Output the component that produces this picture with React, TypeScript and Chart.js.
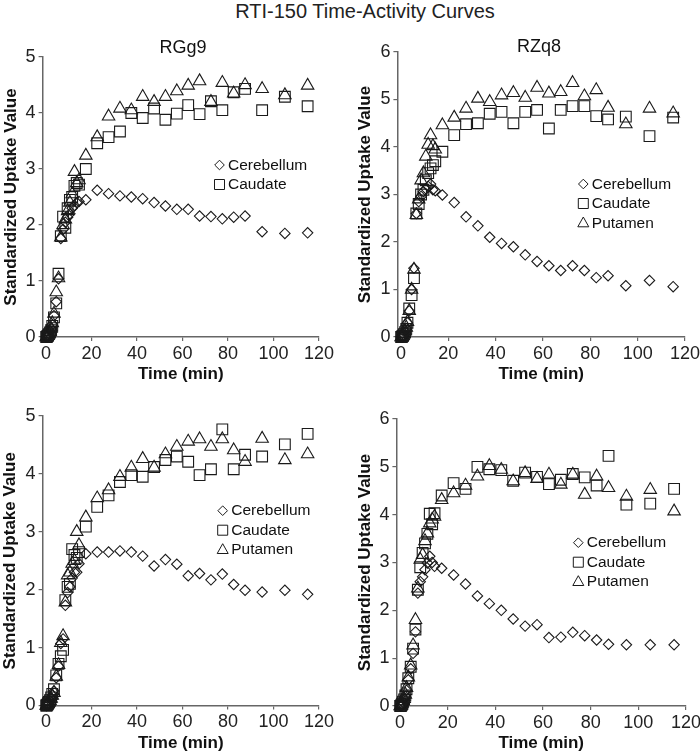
import React, { useEffect, useRef } from 'react';
import { Chart, registerables } from 'chart.js';
Chart.register(...registerables);

const FONT = "'Liberation Sans', Arial, Helvetica, sans-serif";

// Frame mid-times (min)
const times = [0.1, 0.3, 0.5, 0.7, 0.9, 1.25, 1.75, 2.25, 2.75, 3.5, 4.5, 5.5, 6.5, 7.5, 8.5, 9.5, 10.5, 11.5, 12.5, 13.5, 14.5, 17.5, 22.5, 27.5, 32.5, 37.5, 42.5, 47.5, 52.5, 57.5, 62.5, 67.5, 72.5, 77.5, 82.5, 87.5, 95, 105, 115];
const xTickValues = [0, 20, 40, 60, 80, 100, 120];

// RGg9 (top left)
const rgg9Cerebellum = [0, 0, 0.01, 0.02, 0.04, 0.06, 0.1, 0.15, 0.22, 0.38, 0.63, 1.04, 1.76, 1.92, 2.05, 2.14, 2.2, 2.3, 2.35, 2.4, 2.42, 2.45, 2.62, 2.56, 2.52, 2.5, 2.47, 2.4, 2.34, 2.28, 2.28, 2.16, 2.15, 2.11, 2.14, 2.16, 1.88, 1.85, 1.86];
const rgg9Caudate = [0, 0, 0.01, 0.02, 0.03, 0.05, 0.08, 0.12, 0.2, 0.35, 0.6, 1.13, 1.8, 2.15, 1.95, 2.3, 2.45, 2.5, 2.7, 2.75, 2.72, 3.0, 3.46, 3.57, 3.67, 4.0, 3.91, 4.08, 3.88, 3.99, 4.14, 3.98, 4.21, 4.05, 4.37, 4.43, 4.05, 4.29, 4.12];
const rgg9Putamen = [0, 0, 0.01, 0.02, 0.03, 0.06, 0.1, 0.15, 0.25, 0.42, 0.8, 1.05, 1.78, 2.0, 2.1, 2.25, 2.4, 2.55, 2.95, 2.75, 2.8, 3.24, 3.57, 3.94, 4.08, 4.05, 4.29, 4.2, 4.29, 4.39, 4.49, 4.57, 4.2, 4.54, 4.35, 4.5, 4.43, 4.32, 4.49];

// RZq8 (top right)
const rzq8Cerebellum = [0, 0, 0.01, 0.02, 0.03, 0.05, 0.1, 0.18, 0.3, 0.55, 1.0, 1.45, 2.6, 2.85, 2.96, 3.06, 3.12, 3.17, 3.22, 3.1, 3.08, 2.99, 2.83, 2.53, 2.34, 2.1, 1.97, 1.9, 1.73, 1.59, 1.5, 1.4, 1.5, 1.4, 1.25, 1.29, 1.08, 1.19, 1.06];
const rzq8Caudate = [0, 0, 0.01, 0.02, 0.03, 0.06, 0.1, 0.17, 0.3, 0.6, 0.88, 1.24, 2.6, 2.8, 3.0, 3.1, 3.3, 3.45, 3.55, 3.62, 3.7, 3.9, 4.25, 4.48, 4.5, 4.7, 4.74, 4.5, 4.74, 4.78, 4.39, 4.78, 4.86, 4.86, 4.65, 4.58, 4.64, 4.23, 4.62];
const rzq8Putamen = [0, 0, 0.01, 0.02, 0.03, 0.06, 0.12, 0.2, 0.32, 0.55, 1.0, 1.42, 2.57, 2.9, 3.3, 3.45, 3.8, 4.05, 4.25, 4.02, 3.95, 4.46, 4.62, 4.81, 5.02, 4.95, 5.09, 5.14, 5.04, 5.25, 5.13, 5.16, 5.35, 5.07, 5.2, 4.83, 4.48, 4.81, 4.71];

// Bottom left
const blCerebellum = [0, 0, 0.01, 0.02, 0.03, 0.05, 0.08, 0.12, 0.18, 0.25, 0.48, 0.68, 1.07, 1.15, 1.73, 1.95, 2.05, 2.2, 2.3, 2.3, 2.45, 2.62, 2.65, 2.65, 2.67, 2.65, 2.58, 2.41, 2.52, 2.44, 2.24, 2.28, 2.17, 2.27, 2.09, 1.99, 1.96, 1.99, 1.92];
const blCaudate = [0, 0, 0.01, 0.02, 0.04, 0.06, 0.09, 0.14, 0.2, 0.28, 0.52, 0.72, 0.85, 0.96, 1.82, 2.05, 2.1, 2.7, 2.6, 2.55, 2.65, 3.09, 3.43, 3.63, 3.86, 3.98, 3.95, 4.12, 4.24, 4.3, 4.21, 3.98, 4.08, 4.77, 4.08, 4.33, 4.3, 4.51, 4.69];
const blPutamen = [0, 0, 0.01, 0.02, 0.03, 0.05, 0.08, 0.12, 0.17, 0.22, 0.5, 0.7, 1.08, 1.2, 1.78, 2.25, 2.3, 2.45, 2.5, 3.0, 2.77, 3.25, 3.58, 3.72, 3.95, 4.11, 4.26, 4.11, 4.34, 4.47, 4.56, 4.6, 4.47, 4.6, 4.41, 4.21, 4.61, 4.24, 4.34];

// Bottom right
const brCerebellum = [0, 0, 0.01, 0.02, 0.04, 0.08, 0.13, 0.2, 0.33, 0.55, 0.78, 1.1, 1.55, 2.36, 2.6, 2.7, 2.85, 2.99, 3.13, 3.0, 2.92, 2.88, 2.74, 2.55, 2.3, 2.14, 2.0, 1.82, 1.67, 1.7, 1.43, 1.44, 1.54, 1.47, 1.38, 1.29, 1.28, 1.28, 1.28];
const brCaudate = [0, 0, 0.01, 0.03, 0.05, 0.09, 0.14, 0.22, 0.35, 0.58, 0.82, 1.2, 1.6, 2.43, 2.9, 3.2, 3.4, 3.6, 4.02, 3.8, 4.03, 4.4, 4.66, 4.54, 5.0, 4.95, 4.93, 4.71, 4.88, 4.79, 4.64, 4.73, 4.85, 4.78, 4.61, 5.23, 4.21, 4.23, 4.54];
const brPutamen = [0, 0, 0.01, 0.02, 0.05, 0.1, 0.15, 0.24, 0.38, 0.6, 0.85, 1.27, 1.8, 2.46, 3.06, 3.16, 3.45, 3.61, 3.82, 3.9, 3.96, 4.31, 4.45, 4.61, 4.8, 5.02, 4.94, 4.7, 4.87, 4.75, 4.84, 4.63, 4.84, 4.42, 4.8, 4.56, 4.38, 4.52, 4.07];

const seriesNames = ['Cerebellum', 'Caudate', 'Putamen'];
const pointStyles = ['rectRot', 'rect', 'triangle'];
const pointRadii = [5.2, 7.6, 7.2];

const MARK = '#1a1a1a';
const AXIS = '#666';

type PanelSpec = {
  key: string;
  left: number; top: number; width: number; height: number;
  yMax: number; yWidth: number;
  pad: { top: number; right: number; bottom: number; left: number };
  yTitlePad: number;
  subtitle?: string; subX?: number; subY?: number;
  legendX: number; legendY: number; legendCount: number;
  series: number[][];
};

const panels: PanelSpec[] = [
  { key: 'tl', left: 0, top: 20, width: 350, height: 370, yMax: 5, yWidth: 42.6, pad: { top: 37, right: 31, bottom: 5, left: 0 }, yTitlePad: 1, subtitle: 'RGg9', subX: 183, subY: 28, legendX: 219.5, legendY: 145, legendCount: 2, series: [rgg9Cerebellum, rgg9Caudate, rgg9Putamen] },
  { key: 'tr', left: 350, top: 20, width: 350, height: 370, yMax: 6, yWidth: 47.4, pad: { top: 32, right: 15, bottom: 5, left: 0 }, yTitlePad: 4.8, subtitle: 'RZq8', subX: 189, subY: 27, legendX: 233.3, legendY: 164, legendCount: 3, series: [rzq8Cerebellum, rzq8Caudate, rzq8Putamen] },
  { key: 'bl', left: 0, top: 380, width: 350, height: 374, yMax: 5, yWidth: 42.6, pad: { top: 36, right: 31, bottom: 0.5, left: 0 }, yTitlePad: 0, legendX: 222.7, legendY: 130.7, legendCount: 3, series: [blCerebellum, blCaudate, blPutamen] },
  { key: 'br', left: 350, top: 380, width: 350, height: 374, yMax: 6, yWidth: 46.4, pad: { top: 39, right: 14, bottom: 0, left: 0 }, yTitlePad: 4.8, legendX: 228.3, legendY: 162.7, legendCount: 3, series: [brCerebellum, brCaudate, brPutamen] },
];

function drawSymbol(ctx: CanvasRenderingContext2D, style: string, x: number, y: number) {
  ctx.beginPath();
  if (style === 'rectRot') {
    const r = 4.8;
    ctx.moveTo(x - r, y); ctx.lineTo(x, y - r); ctx.lineTo(x + r, y); ctx.lineTo(x, y + r); ctx.closePath();
  } else if (style === 'rect') {
    ctx.rect(x - 5, y - 5, 10, 10);
  } else {
    ctx.moveTo(x, y - 6); ctx.lineTo(x + 5.5, y + 3.8); ctx.lineTo(x - 5.5, y + 3.8); ctx.closePath();
  }
  ctx.stroke();
}

function Panel({ spec }: { spec: PanelSpec }) {
  const ref = useRef<HTMLCanvasElement>(null);
  useEffect(() => {
    const canvas = ref.current!;
    const overlay = {
      id: 'overlay',
      afterDraw(chart: any) {
        const ctx = chart.ctx as CanvasRenderingContext2D;
        ctx.save();
        ctx.fillStyle = '#111';
        if (spec.subtitle) {
          ctx.font = `18px ${FONT}`;
          ctx.textAlign = 'center';
          ctx.textBaseline = 'middle';
          ctx.fillText(spec.subtitle, spec.subX!, spec.subY!);
        }
        ctx.font = `15.5px ${FONT}`;
        ctx.textAlign = 'left';
        ctx.textBaseline = 'middle';
        ctx.strokeStyle = MARK;
        ctx.lineWidth = 1;
        for (let i = 0; i < spec.legendCount; i++) {
          const y = spec.legendY + i * 19.5;
          drawSymbol(ctx, pointStyles[i], spec.legendX, y);
          ctx.fillText(seriesNames[i], spec.legendX + 8.5, y + 0.5);
        }
        ctx.restore();
      },
    };
    const chart = new Chart(canvas, {
      type: 'scatter',
      data: {
        datasets: spec.series.map((vals, i) => ({
          label: seriesNames[i],
          data: vals.map((v, j) => ({ x: times[j], y: v })),
          pointStyle: pointStyles[i] as any,
          pointRadius: pointRadii[i],
          pointHoverRadius: pointRadii[i],
          borderColor: MARK,
          backgroundColor: 'rgba(0,0,0,0)',
          borderWidth: 1.1,
          clip: false as any,
        })),
      },
      options: {
        responsive: false,
        animation: false,
        events: [],
        layout: { padding: spec.pad },
        plugins: { legend: { display: false }, tooltip: { enabled: false }, title: { display: false } },
        scales: {
          x: {
            type: 'linear',
            min: -1.5,
            max: 120,
            afterBuildTicks: (scale: any) => { scale.ticks = xTickValues.map((v) => ({ value: v })); },
            afterFit: (scale: any) => { scale.height = 48; scale.paddingLeft = 0; scale.paddingRight = 0; },
            grid: { display: true, drawOnChartArea: false, drawTicks: true, tickLength: 4, color: AXIS, lineWidth: 1.2 },
            border: { display: true, color: AXIS, width: 1.5 },
            ticks: { font: { family: FONT, size: 18 }, color: '#222', padding: 2, maxRotation: 0 },
            title: { display: true, text: 'Time (min)', font: { family: FONT, size: 17, weight: 'bold' }, color: '#111', padding: { top: 0, bottom: 0 } },
          },
          y: {
            type: 'linear',
            min: 0,
            max: spec.yMax,
            afterFit: (scale: any) => { scale.width = spec.yWidth; scale.paddingTop = 0; scale.paddingBottom = 0; },
            grid: { display: true, drawOnChartArea: false, drawTicks: true, tickLength: 4, color: AXIS, lineWidth: 1.2 },
            border: { display: true, color: AXIS, width: 1.5 },
            ticks: { stepSize: 1, font: { family: FONT, size: 18 }, color: '#222', padding: 3 },
            title: { display: true, text: 'Standardized Uptake Value', font: { family: FONT, size: 17, weight: 'bold' }, color: '#111', padding: { top: spec.yTitlePad, bottom: 0 } },
          },
        },
      } as any,
      plugins: [overlay],
    });
    return () => chart.destroy();
  }, [spec]);
  return (
    <canvas
      ref={ref}
      width={spec.width}
      height={spec.height}
      style={{ position: 'absolute', left: spec.left, top: spec.top, width: spec.width, height: spec.height }}
    />
  );
}

export default function App() {
  return (
    <div style={{ position: 'absolute', left: 0, top: 0, width: 700, height: 754, background: '#fff', overflow: 'hidden' }}>
      <div
        style={{
          position: 'absolute', left: 365, top: 0, transform: 'translateX(-50%)', whiteSpace: 'nowrap',
          fontFamily: FONT, fontSize: 20, lineHeight: '22px', color: '#222',
        }}
      >
        RTI-150 Time-Activity Curves
      </div>
      {panels.map((p) => (
        <Panel key={p.key} spec={p} />
      ))}
    </div>
  );
}
